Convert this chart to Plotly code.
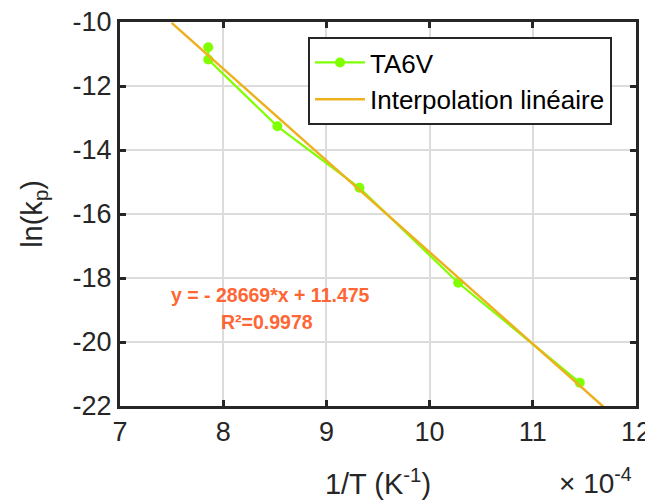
import plotly.graph_objects as go

# Data (x in units of 1e-4 K^-1)
inv_T = [7.855, 7.855, 8.525, 9.320, 10.277, 11.455]
ln_kp = [-10.79, -11.17, -13.26, -15.18, -18.15, -21.27]

# Linear fit (x in K^-1): y = slope*x + intercept
slope = -28669
intercept = 11.475
r2 = 0.9978
fit_x = [7.5, 11.7]  # in units of 1e-4
fit_y = [slope * v * 1e-4 + intercept for v in fit_x]

x_ticks = [7, 8, 9, 10, 11, 12]
y_ticks = [-22, -20, -18, -16, -14, -12, -10]

FONT = "Liberation Sans, Arial, sans-serif"
AXC = "#262626"

# page body has an 8px margin: work in page pixels, offset into figure
OFF = 8
W, H = 653 - OFF, 502 - OFF
L, R, T, B = 120 - OFF, 636 - OFF, 22 - OFF, 405.7 - OFF
def fx(px):
    return (px - OFF - L) / (R - L)
def fy(py):
    return 1 - (py - OFF - T) / (B - T)

fig = go.Figure()
fig.add_trace(go.Scatter(
    x=inv_T, y=ln_kp, mode="lines+markers", name="TA6V",
    line=dict(color="#80FF00", width=2.2),
    marker=dict(color="#80FF00", size=10),
))
fig.add_trace(go.Scatter(
    x=fit_x, y=fit_y, mode="lines", name="Interpolation linéaire",
    line=dict(color="#EDB120", width=2.5),
))

axis_common = dict(
    showline=True, linecolor=AXC, linewidth=3, mirror="ticks",
    ticks="inside", ticklen=6, tickwidth=2.5, tickcolor=AXC,
    showgrid=True, gridcolor="#DCDCDC", gridwidth=2,
    zeroline=False, automargin=False, ticklabeloverflow="allow",
    tickfont=dict(family=FONT, size=27, color=AXC),
)

fig.update_xaxes(
    range=[7, 12], tickvals=x_ticks, ticktext=[str(v) for v in x_ticks],
    title=dict(text="1/T (K<sup>-1</sup>)", font=dict(family=FONT, size=29, color=AXC), standoff=28),
    **axis_common,
)
fig.update_yaxes(
    range=[-22, -10], tickvals=y_ticks, ticktext=[str(v) for v in y_ticks],
    title=dict(text="ln(k<sub>p</sub>)", font=dict(family=FONT, size=29, color=AXC), standoff=22),
    **axis_common,
)

ann_font = dict(family=FONT, size=19.5, color="#FF6633", weight="bold")
fig.add_annotation(
    text=f"y = - {abs(slope)}*x + {intercept}", x=fx(270), y=fy(295),
    xref="paper", yref="paper", showarrow=False, xanchor="center", yanchor="middle",
    font=ann_font,
)
fig.add_annotation(
    text=f"R²={r2}", x=fx(267), y=fy(322),
    xref="paper", yref="paper", showarrow=False, xanchor="center", yanchor="middle",
    font=ann_font,
)
fig.add_annotation(
    text="× 10<sup>-4</sup>", x=fx(634), y=fy(481),
    xref="paper", yref="paper", showarrow=False, xanchor="right", yanchor="middle",
    font=dict(family=FONT, size=28, color=AXC),
)

fig.update_layout(
    width=W, height=H,
    margin=dict(l=L, r=W - R, t=T, b=H - B, autoexpand=False),
    paper_bgcolor="white", plot_bgcolor="white",
    font=dict(family=FONT, color=AXC),
    showlegend=True,
    legend=dict(
        x=fx(308), y=fy(37), xanchor="left", yanchor="top",
        bgcolor="white", bordercolor=AXC, borderwidth=2,
        font=dict(family=FONT, size=26, color="black"),
        itemwidth=50, tracegroupgap=0,
    ),
)

fig.write_html("out.html")
